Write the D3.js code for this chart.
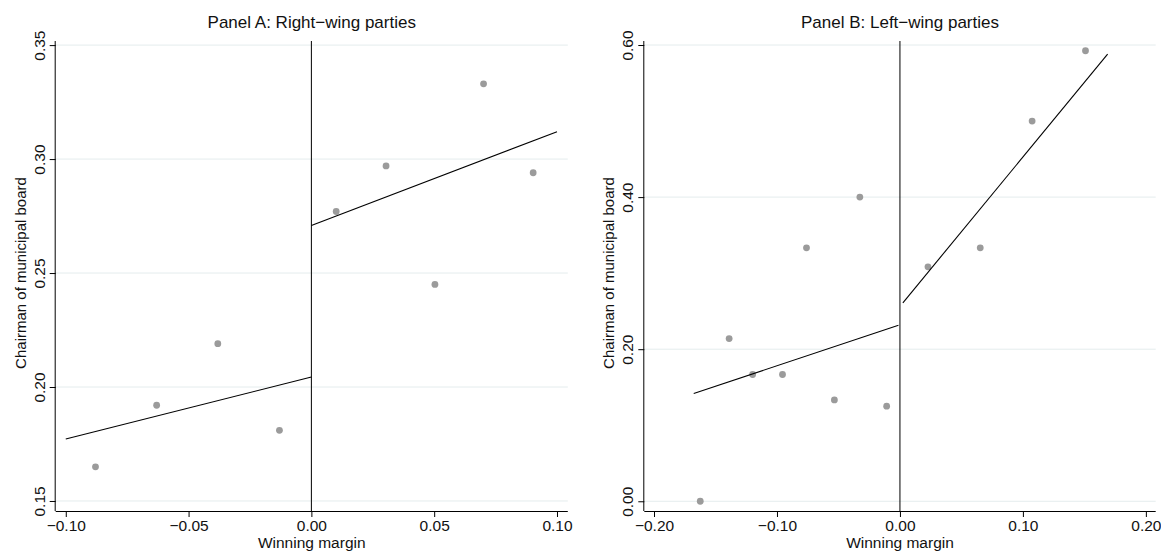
<!DOCTYPE html>
<html>
<head>
<meta charset="utf-8">
<script src="https://cdn.jsdelivr.net/npm/d3@7"></script>
<style>
  html, body { margin: 0; padding: 0; background: #fff; }
  svg text { font-family: "Liberation Sans", Arial, sans-serif; fill: #111; }
</style>
</head>
<body>
<svg id="chart" width="1161" height="552"></svg>
<script>
// Binned means of the outcome by winning margin, with separate linear fits on each side of the cutoff.
const titleA = "Panel A: Right\u2212wing parties";
const xA = [-0.0879, -0.0630, -0.0381, -0.0130, 0.0101, 0.0304, 0.0503, 0.0701, 0.0903];
const yA = [0.165, 0.192, 0.219, 0.181, 0.277, 0.297, 0.245, 0.333, 0.294];
const fitLeftA = [[-0.10, 0.1772], [0.0, 0.2044]];
const fitRightA = [[0.0, 0.2709], [0.10, 0.312]];
const xTicksA = [-0.10, -0.05, 0.00, 0.05, 0.10];
const yTicksA = [0.15, 0.20, 0.25, 0.30, 0.35];
const xDomainA = [-0.1041, 0.1044];
const yDomainA = [0.1456, 0.3518];

const titleB = "Panel B: Left\u2212wing parties";
const xB = [-0.1624, -0.1389, -0.1198, -0.0955, -0.0760, -0.0533, -0.0326, -0.0108, 0.0228, 0.0653, 0.1075, 0.1509];
const yB = [0.000, 0.214, 0.1667, 0.1667, 0.3333, 0.1333, 0.400, 0.125, 0.3083, 0.3333, 0.500, 0.5925];
const fitLeftB = [[-0.1677, 0.1417], [-0.0012, 0.2316]];
const fitRightB = [[0.0024, 0.261], [0.1689, 0.588]];
const xTicksB = [-0.20, -0.10, 0.00, 0.10, 0.20];
const yTicksB = [0.00, 0.20, 0.40, 0.60];
const xDomainB = [-0.2079, 0.2080];
const yDomainB = [-0.0128, 0.6053];

const xTitle = "Winning margin";
const yTitle = "Chairman of municipal board";

const svg = d3.select("#chart");
const fmt = d3.format(".2f");

function panel(opts) {
  const { left, right, top, bottom } = opts.box;
  const x = d3.scaleLinear().domain(opts.xDomain).range([left, right]);
  const y = d3.scaleLinear().domain(opts.yDomain).range([bottom, top]);
  const g = svg.append("g");

  // horizontal gridlines
  g.selectAll("line.grid").data(opts.yTicks).join("line")
    .attr("class", "grid")
    .attr("x1", left).attr("x2", right)
    .attr("y1", d => y(d)).attr("y2", d => y(d))
    .attr("stroke", "#e4eced").attr("stroke-width", 1);

  // x axis
  const xAxis = g.append("g")
    .attr("transform", `translate(0,${bottom})`)
    .call(d3.axisBottom(x).tickValues(opts.xTicks).tickFormat(fmt).tickSize(6).tickSizeOuter(0));
  xAxis.select(".domain").attr("d", `M${left},0.5H${right}`).attr("stroke", "#000");
  xAxis.selectAll(".tick line").attr("stroke", "#000");
  xAxis.selectAll(".tick text")
    .attr("font-size", 15.5).attr("y", 9).attr("dy", "0.71em")
    .attr("font-family", "Liberation Sans, Arial, sans-serif").attr("fill", "#111");

  // y axis with rotated tick labels
  const yAxis = g.append("g")
    .attr("transform", `translate(${left},0)`)
    .call(d3.axisLeft(y).tickValues(opts.yTicks).tickFormat(fmt).tickSize(6).tickSizeOuter(0));
  yAxis.select(".domain").attr("d", `M-0.5,${top}V${bottom}`).attr("stroke", "#000");
  yAxis.selectAll(".tick line").attr("stroke", "#000");
  yAxis.selectAll(".tick text")
    .attr("font-size", 15.5)
    .attr("font-family", "Liberation Sans, Arial, sans-serif").attr("fill", "#111")
    .attr("x", null).attr("dy", null)
    .attr("text-anchor", "middle")
    .attr("transform", "translate(-11,0) rotate(-90)");

  // cutoff line
  g.append("line")
    .attr("x1", x(0)).attr("x2", x(0))
    .attr("y1", top).attr("y2", bottom)
    .attr("stroke", "#000").attr("stroke-width", 1);

  // binned means
  g.selectAll("circle").data(opts.xs.map((v, i) => [v, opts.ys[i]])).join("circle")
    .attr("cx", d => x(d[0])).attr("cy", d => y(d[1]))
    .attr("r", 3.4).attr("fill", "#9b9b9b");

  // linear fits
  const line = d3.line().x(d => x(d[0])).y(d => y(d[1]));
  [opts.fitLeft, opts.fitRight].forEach(f => {
    g.append("path").attr("d", line(f))
      .attr("fill", "none").attr("stroke", "#000").attr("stroke-width", 1.1);
  });

  // titles
  g.append("text")
    .attr("x", (left + right) / 2).attr("y", 28)
    .attr("text-anchor", "middle").attr("font-size", 17)
    .text(opts.title);
  g.append("text")
    .attr("x", (left + right) / 2).attr("y", 548)
    .attr("text-anchor", "middle").attr("font-size", 15.5)
    .text(xTitle);
  g.append("text")
    .attr("transform", `translate(${left - 30},${(top + bottom) / 2 - 3}) rotate(-90)`)
    .attr("text-anchor", "middle").attr("font-size", 15)
    .text(yTitle);
}

panel({
  box: { left: 55.7, right: 567.8, top: 41, bottom: 511 },
  xDomain: xDomainA, yDomain: yDomainA,
  xTicks: xTicksA, yTicks: yTicksA,
  xs: xA, ys: yA, fitLeft: fitLeftA, fitRight: fitRightA,
  title: titleA
});

panel({
  box: { left: 644.3, right: 1155.7, top: 41, bottom: 511 },
  xDomain: xDomainB, yDomain: yDomainB,
  xTicks: xTicksB, yTicks: yTicksB,
  xs: xB, ys: yB, fitLeft: fitLeftB, fitRight: fitRightB,
  title: titleB
});
</script>
</body>
</html>
